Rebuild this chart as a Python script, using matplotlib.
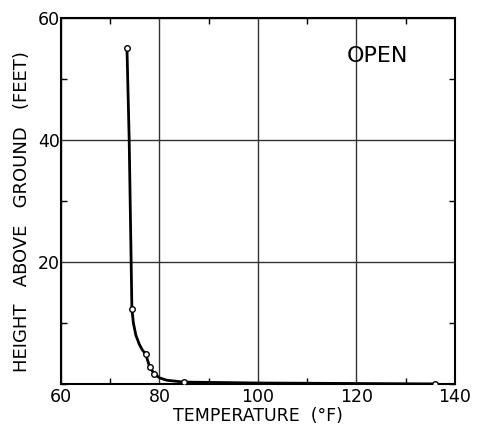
import matplotlib
matplotlib.use("Agg")
import matplotlib.pyplot as plt
from matplotlib.ticker import MultipleLocator

# Observed points (open circles)
temp_pts = [73.4, 74.4, 77.2, 78.0, 78.9, 85.0, 136.0]
height_pts = [55.0, 12.3, 4.9, 2.8, 1.7, 0.3, 0.0]

# Smooth curve
curve_temp = [73.4, 73.85, 74.4, 74.7, 75.2, 75.9, 76.5, 77.2, 78.0, 78.9, 80.0, 81.5, 85.0, 100.0, 136.0]
curve_height = [55.0, 40.0, 12.3, 10.0, 8.0, 6.5, 5.6, 4.9, 2.8, 1.7, 1.0, 0.6, 0.3, 0.15, 0.0]

x_ticks = [60, 80, 100, 120, 140]
y_ticks = [20, 40, 60]

fig = plt.figure(figsize=(4.86, 4.28), dpi=100)
ax = fig.add_axes([0.1255, 0.103, 0.8105, 0.855])

ax.plot(curve_temp, curve_height, color="black", lw=2.0, zorder=3)
ax.plot(temp_pts, height_pts, linestyle="none", marker="o", ms=4,
        mfc="white", mec="black", mew=1.0, zorder=4)

ax.set_xlim(60, 140)
ax.set_ylim(0, 60)
ax.set_xticks(x_ticks)
ax.set_yticks(y_ticks)
ax.xaxis.set_minor_locator(MultipleLocator(10))
ax.yaxis.set_minor_locator(MultipleLocator(10))
ax.grid(True, which="major", color="#333333", lw=1.0)
ax.tick_params(which="major", length=0, labelsize=12.5)
ax.tick_params(axis="x", which="major", pad=3)
ax.tick_params(axis="y", which="major", pad=1)
ax.tick_params(which="minor", direction="in", length=4, width=1.0,
               top=True, right=True)
for s in ax.spines.values():
    s.set_linewidth(1.5)

ax.set_xlabel("TEMPERATURE  (°F)", fontsize=12.5)
ax.xaxis.set_label_coords(0.5, -0.063)
ax.set_ylabel("HEIGHT   ABOVE   GROUND   (FEET)", fontsize=13)
ax.yaxis.set_label_coords(-0.075, 0.47)

ax.text(124.3, 53.8, "OPEN", fontsize=16, ha="center", va="center")

fig.savefig("out.png", dpi=100)
